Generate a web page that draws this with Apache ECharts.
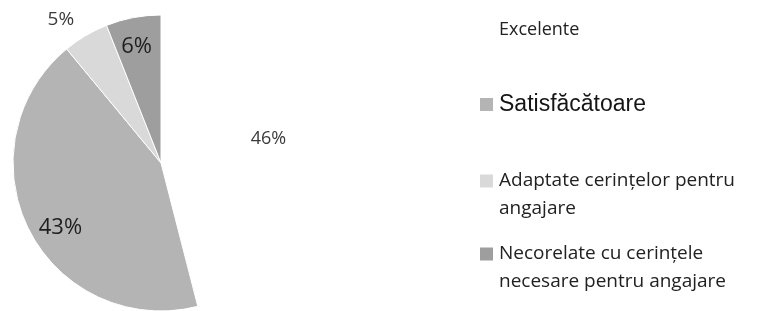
<!DOCTYPE html>
<html>
<head>
<meta charset="utf-8">
<script src="https://cdn.jsdelivr.net/npm/echarts@6/dist/echarts.min.js"></script>
<style>
  html, body { margin: 0; padding: 0; background: #fff; }
  #chart { width: 774px; height: 311px; }
</style>
</head>
<body>
<div id="chart"></div>
<script>
// categories and values (percent)
var categories = [
  "Excelente",
  "Satisfăcătoare",
  "Adaptate cerințelor pentru\nangajare",
  "Necorelate cu cerințele\nnecesare pentru angajare"
];
var values = [46, 43, 5, 6];
var colors = ["#ffffff", "#b4b4b4", "#d9d9d9", "#9e9e9e"];

// label nudges from the default inside spot (Excel "best fit" look)
var labelShift = [[31, -14], [-32, 30], [-61, -77], [-10, -41]];
var labelFont = [18, 22, 19, 22];

var myChart = echarts.init(document.getElementById("chart"));

var pieData = categories.map(function (name, i) {
  return {
    name: name,
    value: values[i],
    itemStyle: { color: colors[i] },
    label: { fontSize: labelFont[i], color: i === 0 || i === 2 ? "#3a3a3a" : "#1e1e1e" }
  };
});

var legendTops = [21, 93, 139, 212];
var legendFonts = [
  { fontFamily: "Open Sans", fontSize: 18, color: "#222" },
  { fontFamily: "Liberation Sans", fontSize: 23, color: "#151515" },
  { fontFamily: "Open Sans", fontSize: 19, color: "#222", lineHeight: 28 },
  { fontFamily: "Open Sans", fontSize: 19, color: "#222", lineHeight: 28 }
];

var legends = categories.map(function (name, i) {
  return {
    left: 478,
    top: legendTops[i],
    padding: 0,
    orient: "vertical",
    icon: "rect",
    itemWidth: 15,
    itemHeight: 15,
    itemGap: 0,
    selectedMode: false,
    // empty first line keeps the marker level with the first text line
    formatter: name.indexOf("\n") >= 0 ? "\n{name}" : "{name}",
    data: [{ name: name, itemStyle: { color: colors[i] } }],
    textStyle: legendFonts[i]
  };
});

var option = {
  backgroundColor: "#fff",
  animation: false,
  legend: legends,
  series: [
    {
      type: "pie",
      center: [161, 163],
      radius: 148,
      startAngle: 90,
      clockwise: true,
      data: pieData,
      itemStyle: { borderColor: "#fff", borderWidth: 1 },
      label: {
        show: true,
        position: "inside",
        formatter: "{c}%",
        fontFamily: "Open Sans"
      },
      labelLine: { show: false },
      labelLayout: function (params) {
        var s = labelShift[params.dataIndex];
        return { dx: s[0], dy: s[1] };
      },
      emphasis: { disabled: true }
    }
  ]
};

myChart.setOption(option);
</script>
</body>
</html>
